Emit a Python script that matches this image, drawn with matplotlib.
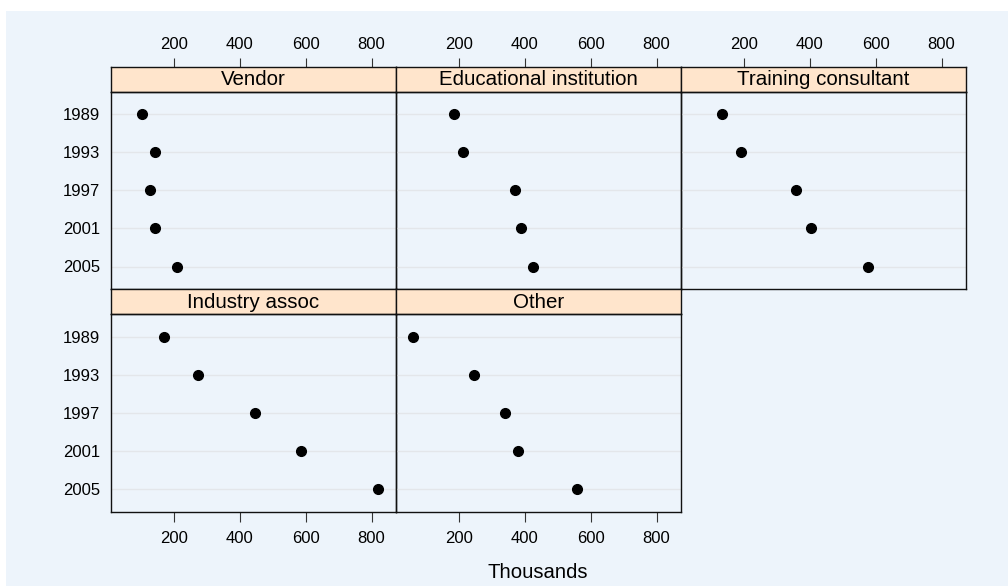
import matplotlib
matplotlib.use('Agg')
from matplotlib import pyplot as plt
from matplotlib.patches import Rectangle

plt.rcParams['font.family'] = ['Liberation Sans', 'DejaVu Sans']

# data (thousands)
years = ['1989', '1993', '1997', '2001', '2005']
panels = ['Vendor', 'Educational institution', 'Training consultant',
          'Industry assoc', 'Other']
vendor = [105, 143, 128, 143, 209]
educational = [186, 213, 371, 389, 425]
training = [135, 191, 359, 403, 578]
industry = [172, 273, 447, 587, 820]
other = [62, 247, 340, 379, 560]
series = [vendor, educational, training, industry, other]
xticks = [200, 400, 600, 800]

W, H = 1008, 586
bg = '#EDF4FB'
strip_col = '#FFE5CC'

fig = plt.figure(figsize=(W / 100, H / 100), dpi=100, facecolor='white')
fig.patches.append(Rectangle((6 / W, 0), 1, 1 - 11 / H, transform=fig.transFigure,
                             facecolor=bg, edgecolor='none', zorder=-10))

def px_axes(x0, y0, x1, y1):
    return fig.add_axes([x0 / W, 1 - y1 / H, (x1 - x0) / W, (y1 - y0) / H])

# lattice style range: data range extended by 7%
allv = [v for s in series for v in s]
rng = max(allv) - min(allv)
xlim = (min(allv) - 0.07 * rng, max(allv) + 0.07 * rng)

col_x = [110.7, 395.7, 680.7, 965.7]
rows = [(66.7, 91.7, 289.3), (289.3, 314.3, 511.7)]
ypos = list(range(1, len(years) + 1))

for i, (name, vals) in enumerate(zip(panels, series)):
    r, c = divmod(i, 3)
    s_top, p_top, p_bot = rows[r]
    x0, x1 = col_x[c], col_x[c + 1]

    # strip
    st = px_axes(x0, s_top, x1, p_top)
    st.set_facecolor(strip_col)
    st.set_xlim(xlim)
    st.set_yticks([])
    st.text(0.5, 0.47, name, transform=st.transAxes, ha='center', va='center',
            fontsize=14.8, color='black')
    for sp in st.spines.values():
        sp.set_linewidth(1.0)
        sp.set_color('#111111')
    if r == 0:
        st.xaxis.tick_top()
        st.set_xticks(xticks)
        st.tick_params(axis='x', direction='out', length=6.8, width=0.8,
                       color='#333333', labelsize=12, pad=4)
    else:
        st.set_xticks([])

    # panel
    ax = px_axes(x0, p_top, x1, p_bot)
    ax.set_facecolor('none')
    ax.set_xlim(xlim)
    ax.set_ylim(len(years) + 0.6, 0.4)
    for y in ypos:
        ax.axhline(y, color='#E3E6EA', linewidth=1.0, zorder=1)
    ax.plot(vals, ypos, 'o', color='black', markersize=7, zorder=3)
    for sp in ax.spines.values():
        sp.set_linewidth(1.0)
        sp.set_color('#111111')
    ax.set_yticks(ypos)
    if c == 0:
        ax.set_yticklabels(years)
        ax.tick_params(axis='y', length=0, labelsize=12, pad=7.5)
    else:
        ax.set_yticklabels([])
        ax.tick_params(axis='y', length=0)
    if r == 1:
        ax.set_xticks(xticks)
        ax.tick_params(axis='x', direction='out', length=7, width=0.8,
                       color='#333333', labelsize=12, pad=7)
    else:
        ax.set_xticks([])

fig.text(538 / W, 1 - 572.5 / H, 'Thousands', ha='center', va='center', fontsize=14.6)

fig.savefig('out.png', dpi=100, facecolor='white')
